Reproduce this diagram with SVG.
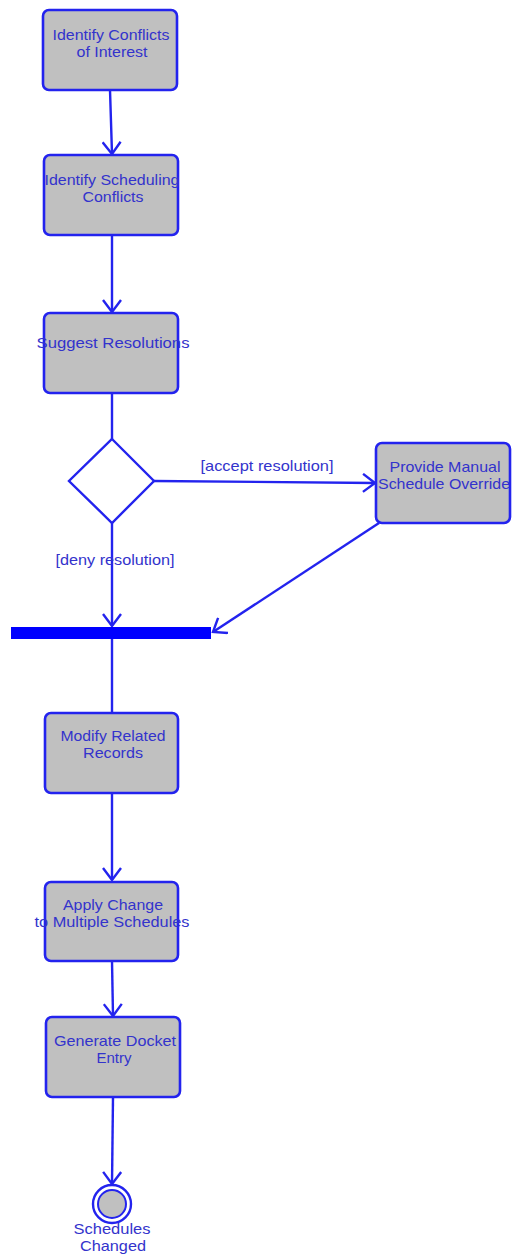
<svg xmlns="http://www.w3.org/2000/svg" width="512" height="1254" viewBox="0 0 512 1254">
<style>
.box{fill:#c0c0c0;stroke:#2323ee;stroke-width:2.6}
.t{font-family:"Liberation Sans",Arial,sans-serif;font-size:15px;fill:#3333cc;text-anchor:middle}
.c{fill:none;stroke:#2323ee;stroke-width:2.4}
</style>
<defs>
<marker id="arr" markerUnits="userSpaceOnUse" viewBox="-14 -10 16 20" refX="0" refY="0" markerWidth="16" markerHeight="20" orient="auto">
<path d="M-12,-9 L0,0 L-12,9" fill="none" stroke="#2323ee" stroke-width="2.4"/>
</marker>
</defs>
<rect width="512" height="1254" fill="#ffffff"/>
<g id="connectors">
<path class="c" d="M110,90 L112,154" marker-end="url(#arr)"/>
<path class="c" d="M112,235 L112,312" marker-end="url(#arr)"/>
<path class="c" d="M112,393 L112,439"/>
<path class="c" d="M154,481 L375,483" marker-end="url(#arr)"/>
<path class="c" d="M112,523 L112,626" marker-end="url(#arr)"/>
<path class="c" d="M379,523 L213,632" marker-end="url(#arr)"/>
<path class="c" d="M112,639 L112,713"/>
<path class="c" d="M112,793 L112,880" marker-end="url(#arr)"/>
<path class="c" d="M112,961 L113,1016" marker-end="url(#arr)"/>
<path class="c" d="M113,1097 L112,1184" marker-end="url(#arr)"/>
<text class="t" x="267" y="471" textLength="133" lengthAdjust="spacingAndGlyphs">[accept resolution]</text>
<text class="t" x="115" y="565" textLength="119" lengthAdjust="spacingAndGlyphs">[deny resolution]</text>
</g>
<g id="n1"><rect class="box" x="43" y="10" width="134" height="80" rx="6"/><text class="t" x="111" y="40" textLength="117" lengthAdjust="spacingAndGlyphs">Identify Conflicts</text><text class="t" x="112" y="57" textLength="71" lengthAdjust="spacingAndGlyphs">of Interest</text></g>
<g id="n2"><rect class="box" x="44" y="155" width="134" height="80" rx="6"/><text class="t" x="112" y="185" textLength="135" lengthAdjust="spacingAndGlyphs">Identify Scheduling</text><text class="t" x="113" y="202" textLength="61" lengthAdjust="spacingAndGlyphs">Conflicts</text></g>
<g id="n3"><rect class="box" x="44" y="313" width="134" height="80" rx="6"/><text class="t" x="113" y="348" textLength="153" lengthAdjust="spacingAndGlyphs">Suggest Resolutions</text></g>
<g id="decision"><polygon points="112,439 154,481 112,523 69,481" fill="#ffffff" stroke="#2323ee" stroke-width="2.4"/></g>
<g id="n4"><rect class="box" x="376" y="443" width="134" height="80" rx="6"/><text class="t" x="445" y="472" textLength="111" lengthAdjust="spacingAndGlyphs">Provide Manual</text><text class="t" x="444" y="489" textLength="132" lengthAdjust="spacingAndGlyphs">Schedule Override</text></g>
<g id="bar"><rect x="11" y="627" width="200" height="12" fill="#0000ff"/></g>
<g id="n5"><rect class="box" x="45" y="713" width="133" height="80" rx="6"/><text class="t" x="113" y="741" textLength="105" lengthAdjust="spacingAndGlyphs">Modify Related</text><text class="t" x="113" y="758" textLength="60" lengthAdjust="spacingAndGlyphs">Records</text></g>
<g id="n6"><rect class="box" x="45" y="882" width="133" height="79" rx="6"/><text class="t" x="113" y="910" textLength="100" lengthAdjust="spacingAndGlyphs">Apply Change</text><text class="t" x="112" y="927" textLength="155" lengthAdjust="spacingAndGlyphs">to Multiple Schedules</text></g>
<g id="n7"><rect class="box" x="46" y="1017" width="134" height="80" rx="6"/><text class="t" x="115" y="1046" textLength="122" lengthAdjust="spacingAndGlyphs">Generate Docket</text><text class="t" x="114" y="1063" textLength="35" lengthAdjust="spacingAndGlyphs">Entry</text></g>
<g id="final"><circle cx="112" cy="1204" r="19" fill="#ffffff" stroke="#2323ee" stroke-width="2.4"/><circle cx="112" cy="1204" r="14" fill="#c0c0c0" stroke="#2323ee" stroke-width="2"/><text class="t" x="112" y="1234" textLength="77" lengthAdjust="spacingAndGlyphs">Schedules</text><text class="t" x="113" y="1251" textLength="66" lengthAdjust="spacingAndGlyphs">Changed</text></g>
</svg>
